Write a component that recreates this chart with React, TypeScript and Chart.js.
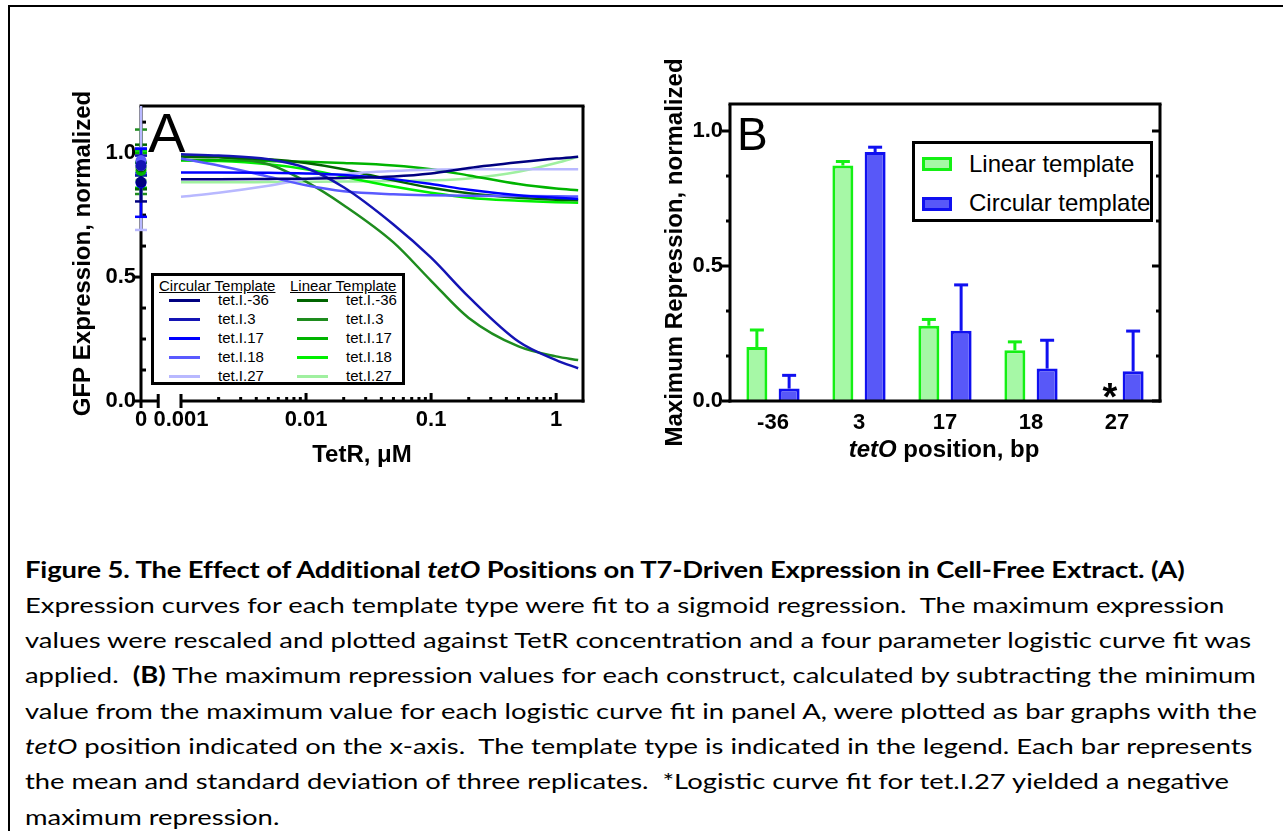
import React, { useEffect, useRef } from 'react';
import { Chart, registerables, LogarithmicScale } from 'chart.js';

Chart.register(...registerables);

const FONT = "'Liberation Sans', Arial, sans-serif";
Chart.defaults.font.family = FONT;
Chart.defaults.color = '#000';

// ---------------- Panel A data ----------------
const TETR_UM = [0.001, 0.002, 0.005, 0.01, 0.02, 0.05, 0.1, 0.2, 0.5, 1, 1.5];
const CONSTRUCTS = ['tet.I.-36', 'tet.I.3', 'tet.I.17', 'tet.I.18', 'tet.I.27'];

const CIRC_M36 = [0.895, 0.895, 0.896, 0.897, 0.9, 0.906, 0.918, 0.94, 0.963, 0.978, 0.985];
const CIRC_3 = [0.995, 0.99, 0.975, 0.94, 0.862, 0.712, 0.578, 0.42, 0.24, 0.165, 0.132];
const CIRC_17 = [0.922, 0.922, 0.921, 0.918, 0.912, 0.895, 0.875, 0.852, 0.83, 0.82, 0.815];
const CIRC_18 = [0.978, 0.95, 0.905, 0.87, 0.846, 0.834, 0.83, 0.828, 0.827, 0.826, 0.825];
const CIRC_27 = [0.824, 0.84, 0.868, 0.895, 0.915, 0.928, 0.933, 0.935, 0.935, 0.935, 0.935];

const LIN_M36 = [0.985, 0.983, 0.975, 0.96, 0.935, 0.89, 0.86, 0.838, 0.82, 0.812, 0.81];
const LIN_3 = [0.99, 0.985, 0.955, 0.885, 0.79, 0.64, 0.485, 0.335, 0.22, 0.18, 0.165];
const LIN_17 = [0.972, 0.971, 0.968, 0.965, 0.96, 0.95, 0.935, 0.91, 0.875, 0.857, 0.85];
const LIN_18 = [0.97, 0.968, 0.955, 0.935, 0.905, 0.865, 0.84, 0.82, 0.808, 0.802, 0.8];
const LIN_27 = [0.882, 0.882, 0.883, 0.884, 0.885, 0.887, 0.89, 0.898, 0.925, 0.96, 0.985];

const CIRC_CURVES = [CIRC_M36, CIRC_3, CIRC_17, CIRC_18, CIRC_27];
const LIN_CURVES = [LIN_M36, LIN_3, LIN_17, LIN_18, LIN_27];

// values without TetR (x = 0), mean and SD
const CIRC_ZERO_MEAN = [0.883, 0.95, 0.88, 0.97, 0.95];
const CIRC_ZERO_SD = [0.078, 0.04, 0.137, 0.05, 0.26];
const LIN_ZERO_MEAN = [0.944, 0.965, 0.93, 0.96, 0.94];
const LIN_ZERO_SD = [0.09, 0.13, 0.07, 0.05, 0.05];

const X_MIN = 0.001;
const X_MAX = 1.64;
const X_MAJOR = [0.001, 0.01, 0.1, 1];
const X_MAJOR_LABELS = ['0.001', '0.01', '0.1', '1'];
const X_ZERO_LABEL = '0';
const Y_A_MAX = 1.19;
const Y_A_MAJOR = [0, 0.5, 1.0];
const Y_A_MINOR = [0.125, 0.25, 0.375, 0.625, 0.75, 0.875, 1.125];

const CIRC_COLORS = ['#000080', '#1414b4', '#0000ff', '#5a5aff', '#b8b8ff'];
const LIN_COLORS = ['#006400', '#1e8c1e', '#00b400', '#00f000', '#a0f0a0'];

// ---------------- Panel B data ----------------
const POSITIONS = ['-36', '3', '17', '18', '27'];
const LINEAR_REP = [0.2, 0.872, 0.279, 0.188, null];
const LINEAR_SD = [0.063, 0.015, 0.023, 0.031, null];
const CIRC_REP = [0.046, 0.922, 0.26, 0.12, 0.11];
const CIRC_SD = [0.049, 0.018, 0.17, 0.105, 0.149];
const Y_B_MAX = 1.1;
const Y_B_MAJOR = [0, 0.5, 1.0];
const Y_B_MINOR = [0.1667, 0.3333, 0.6667, 0.8333];
const NOTE_MARK = '*';

const LIN_FILL = '#a6f8a6';
const LIN_EDGE = '#14f014';
const CIRC_FILL = '#5858f8';
const CIRC_EDGE = '#1010f0';

// ---------------- broken log scale (0 shown at the axis origin) ----------------
class BrokenLogScale extends (LogarithmicScale as any) {
  static id = 'brokenLog';
  static defaults = (LogarithmicScale as any).defaults;
  parse(raw: any, index: number) {
    if (raw === 0) return 0;
    return super.parse(raw, index);
  }
  getPixelForValue(value: number) {
    if (value === null || value === undefined || isNaN(value)) return NaN;
    const gap = (this as any).options.zeroGap || 0;
    if (value <= 0) return (this as any).left;
    const a = Math.log10((this as any).min);
    const b = Math.log10((this as any).max);
    return (this as any).left + gap + ((Math.log10(value) - a) / (b - a)) * ((this as any).width - gap);
  }
  getValueForPixel(pixel: number) {
    const gap = (this as any).options.zeroGap || 0;
    const a = Math.log10((this as any).min);
    const b = Math.log10((this as any).max);
    const dec = (pixel - (this as any).left - gap) / ((this as any).width - gap);
    return Math.pow(10, a + dec * (b - a));
  }
}
Chart.register(BrokenLogScale as any);

function xTickValues() {
  const v: number[] = [0];
  X_MAJOR.forEach((d) => {
    v.push(d);
    for (let k = 2; k <= 9; k++) {
      const m = +(d * k).toPrecision(3);
      if (m < X_MAX) v.push(m);
    }
  });
  return v;
}

function seg(ctx: CanvasRenderingContext2D, x1: number, y1: number, x2: number, y2: number) {
  ctx.beginPath();
  ctx.moveTo(x1, y1);
  ctx.lineTo(x2, y2);
  ctx.stroke();
}

const panelAPlugin = {
  id: 'panelADecor',
  beforeDatasetsDraw(chart: any) {
    const { ctx, chartArea: ca, scales } = chart;
    const x = scales.x;
    const y = scales.y;
    ctx.save();
    ctx.strokeStyle = '#000';
    ctx.lineWidth = 3;
    ctx.lineCap = 'butt';
    // frame
    seg(ctx, ca.left - 1.5, ca.top, ca.right + 1.5, ca.top);
    seg(ctx, ca.right, ca.top, ca.right, ca.bottom + 1.5);
    // y axis
    seg(ctx, ca.left, ca.top, ca.left, ca.bottom + 7);
    // broken x axis
    const x0 = x.getPixelForValue(0);
    const xs = x.getPixelForValue(X_MIN);
    const brk = x0 + (xs - x0) * 0.43;
    seg(ctx, x0, ca.bottom, brk, ca.bottom);
    seg(ctx, xs, ca.bottom, ca.right + 1.5, ca.bottom);
    seg(ctx, brk, ca.bottom - 7, brk, ca.bottom + 7);
    seg(ctx, xs, ca.bottom - 7, xs, ca.bottom + 7);
    x.ticks.forEach((t: any) => {
      if (t.value <= X_MIN) return;
      const px = x.getPixelForValue(t.value);
      const len = X_MAJOR.includes(t.value) ? 8 : 4;
      seg(ctx, px, ca.bottom, px, ca.bottom - len);
    });
    y.ticks.forEach((t: any) => {
      const py = y.getPixelForValue(t.value);
      if (Y_A_MAJOR.includes(t.value)) seg(ctx, ca.left - 7, py, ca.left, py);
      else seg(ctx, ca.left, py, ca.left + 5, py);
    });
    // error bars of the zero-TetR points
    const dss = chart.data.datasets;
    for (let i = dss.length - 1; i >= 0; i--) {
      const ds = dss[i];
      if (!ds.sd) continue;
      ctx.strokeStyle = ds.pointBackgroundColor;
      ctx.lineWidth = 2.5;
      ds.data.forEach((pt: any, j: number) => {
        const px = x.getPixelForValue(pt.x);
        const hiV = pt.y + ds.sd[j];
        const hi = Math.max(y.getPixelForValue(hiV), ca.top);
        const lo = y.getPixelForValue(pt.y - ds.sd[j]);
        seg(ctx, px, hi, px, lo);
        seg(ctx, px - 6, lo, px + 6, lo);
        if (hiV <= Y_A_MAX) seg(ctx, px - 6, hi, px + 6, hi);
      });
    }
    ctx.restore();
  },
};

function PanelA() {
  const ref = useRef<HTMLCanvasElement>(null);
  useEffect(() => {
    const datasets: any[] = [];
    CIRC_ZERO_MEAN.forEach((m, i) =>
      datasets.push({
        label: 'Circular ' + CONSTRUCTS[i] + ' no TetR',
        data: [{ x: 0, y: m }],
        sd: [CIRC_ZERO_SD[i]],
        showLine: false,
        pointRadius: 5.5,
        pointHoverRadius: 5.5,
        pointBorderWidth: 0,
        pointBackgroundColor: CIRC_COLORS[i],
        pointBorderColor: CIRC_COLORS[i],
        clip: false,
      })
    );
    LIN_ZERO_MEAN.forEach((m, i) =>
      datasets.push({
        label: 'Linear ' + CONSTRUCTS[i] + ' no TetR',
        data: [{ x: 0, y: m }],
        sd: [LIN_ZERO_SD[i]],
        showLine: false,
        pointRadius: 5.5,
        pointHoverRadius: 5.5,
        pointBorderWidth: 0,
        pointBackgroundColor: LIN_COLORS[i],
        pointBorderColor: LIN_COLORS[i],
        clip: false,
      })
    );
    CIRC_CURVES.forEach((c, i) =>
      datasets.push({
        label: 'Circular ' + CONSTRUCTS[i],
        data: TETR_UM.map((t, k) => ({ x: t, y: c[k] })),
        borderColor: CIRC_COLORS[i],
        borderWidth: 2.5,
        pointRadius: 0,
        cubicInterpolationMode: 'monotone',
        fill: false,
      })
    );
    LIN_CURVES.forEach((c, i) =>
      datasets.push({
        label: 'Linear ' + CONSTRUCTS[i],
        data: TETR_UM.map((t, k) => ({ x: t, y: c[k] })),
        borderColor: LIN_COLORS[i],
        borderWidth: 2.5,
        pointRadius: 0,
        cubicInterpolationMode: 'monotone',
        fill: false,
      })
    );
    const chart = new Chart(ref.current as HTMLCanvasElement, {
      type: 'line',
      data: { datasets },
      plugins: [panelAPlugin],
      options: {
        animation: false,
        responsive: true,
        maintainAspectRatio: false,
        events: [],
        layout: { padding: { top: 46, right: 10, left: 0, bottom: 0 } },
        plugins: { legend: { display: false }, tooltip: { enabled: false } },
        scales: {
          x: {
            type: 'brokenLog',
            min: X_MIN,
            max: X_MAX,
            zeroGap: 40,
            bounds: 'data',
            grid: { display: false, drawTicks: false },
            border: { display: false },
            afterBuildTicks: (scale: any) => {
              scale.ticks = xTickValues().map((v) => ({ value: v, major: false }));
            },
            ticks: {
              autoSkip: false,
              maxRotation: 0,
              padding: 6,
              font: { size: 22, weight: 'bold' },
              color: '#000',
              callback: (v: any) => {
                if (v === 0) return X_ZERO_LABEL;
                const k = X_MAJOR.indexOf(v);
                return k >= 0 ? X_MAJOR_LABELS[k] : '';
              },
            },
            title: {
              display: true,
              text: 'TetR, \u03bcM',
              font: { size: 24, weight: 'bold' },
              color: '#000',
              padding: { top: 0, bottom: 10.6 },
            },
            afterFit: (s: any) => {
              s.height = 79;
            },
          } as any,
          y: {
            type: 'linear',
            min: 0,
            max: Y_A_MAX,
            grid: { display: false, drawTicks: false },
            border: { display: false },
            afterBuildTicks: (scale: any) => {
              scale.ticks = [...Y_A_MAJOR, ...Y_A_MINOR].map((v) => ({ value: v }));
            },
            ticks: {
              autoSkip: false,
              padding: 5,
              font: { size: 22, weight: 'bold' },
              color: '#000',
              callback: (v: any) => (Y_A_MAJOR.includes(v) ? Number(v).toFixed(1) : ''),
            },
            title: {
              display: true,
              text: 'GFP Expression, normalized',
              font: { size: 24, weight: 'bold' },
              color: '#000',
              padding: { top: 28.6, bottom: 0 },
            },
            afterFit: (s: any) => {
              s.width = 101;
            },
          },
        },
      } as any,
    });
    return () => chart.destroy();
  }, []);
  return <canvas ref={ref} />;
}

const panelBPlugin = {
  id: 'panelBDecor',
  afterDatasetsDraw(chart: any) {
    const { ctx, chartArea: ca, scales } = chart;
    const x = scales.x;
    const y = scales.y;
    ctx.save();
    ctx.lineCap = 'butt';
    // error bars (upper)
    chart.data.datasets.forEach((ds: any, i: number) => {
      const meta = chart.getDatasetMeta(i);
      ctx.strokeStyle = ds.borderColor;
      ctx.lineWidth = 3;
      ds.data.forEach((v: any, j: number) => {
        if (v === null || ds.sd[j] === null) return;
        const el = meta.data[j];
        const top = y.getPixelForValue(v);
        const err = y.getPixelForValue(v + ds.sd[j]);
        seg(ctx, el.x, top, el.x, err);
        seg(ctx, el.x - 7, err, el.x + 7, err);
      });
    });
    // frame and axes
    ctx.strokeStyle = '#000';
    ctx.lineWidth = 3;
    seg(ctx, ca.left - 1.5, ca.top, ca.right + 1.5, ca.top);
    seg(ctx, ca.right, ca.top, ca.right, ca.bottom + 1.5);
    seg(ctx, ca.left, ca.top, ca.left, ca.bottom + 1.5);
    seg(ctx, ca.left - 1.5, ca.bottom, ca.right + 1.5, ca.bottom);
    y.ticks.forEach((t: any) => {
      const py = y.getPixelForValue(t.value);
      const len = Y_B_MAJOR.includes(t.value) ? 8 : 4;
      seg(ctx, ca.left - len, py, ca.left, py);
      seg(ctx, ca.right - len, py, ca.right, py);
    });
    // note mark where the linear value is missing
    const lin = chart.data.datasets[0];
    const meta0 = chart.getDatasetMeta(0);
    lin.data.forEach((v: any, j: number) => {
      if (v !== null) return;
      const el = meta0.data[j];
      const px = el && isFinite(el.x) ? el.x : x.getPixelForValue(j);
      ctx.fillStyle = '#000';
      ctx.font = 'bold 38px ' + FONT;
      ctx.textAlign = 'center';
      ctx.textBaseline = 'alphabetic';
      ctx.fillText(NOTE_MARK, px + 9, y.getPixelForValue(0) + 9);
    });
    ctx.restore();
  },
};

function PanelB() {
  const ref = useRef<HTMLCanvasElement>(null);
  useEffect(() => {
    const chart = new Chart(ref.current as HTMLCanvasElement, {
      type: 'bar',
      data: {
        labels: POSITIONS,
        datasets: [
          {
            label: 'Linear template',
            data: LINEAR_REP,
            sd: LINEAR_SD,
            backgroundColor: LIN_FILL,
            borderColor: LIN_EDGE,
            borderWidth: 3,
            categoryPercentage: 0.75,
            barPercentage: 0.65,
          } as any,
          {
            label: 'Circular template',
            data: CIRC_REP,
            sd: CIRC_SD,
            backgroundColor: CIRC_FILL,
            borderColor: CIRC_EDGE,
            borderWidth: 3,
            categoryPercentage: 0.75,
            barPercentage: 0.65,
          } as any,
        ],
      },
      plugins: [panelBPlugin],
      options: {
        animation: false,
        responsive: true,
        maintainAspectRatio: false,
        events: [],
        layout: { padding: { top: 64, right: 10, left: 0, bottom: 0 } },
        plugins: { legend: { display: false }, tooltip: { enabled: false } },
        scales: {
          x: {
            type: 'category',
            offset: true,
            grid: { display: false, drawTicks: false },
            border: { display: false },
            ticks: { padding: 9, maxRotation: 0, font: { size: 22, weight: 'bold' }, color: '#000' },
            afterFit: (s: any) => {
              s.height = 60;
            },
          },
          y: {
            type: 'linear',
            min: 0,
            max: Y_B_MAX,
            grid: { display: false, drawTicks: false },
            border: { display: false },
            afterBuildTicks: (scale: any) => {
              scale.ticks = [...Y_B_MAJOR, ...Y_B_MINOR].map((v) => ({ value: v }));
            },
            ticks: {
              autoSkip: false,
              padding: 7,
              font: { size: 22, weight: 'bold' },
              color: '#000',
              callback: (v: any) => (Y_B_MAJOR.includes(v) ? Number(v).toFixed(1) : ''),
            },
            title: {
              display: true,
              text: 'Maximum Repression, normalized',
              font: { size: 24, weight: 'bold' },
              color: '#000',
              padding: { top: 20.6, bottom: 0 },
            },
            afterFit: (s: any) => {
              s.width = 90;
            },
          },
        },
      } as any,
    });
    return () => chart.destroy();
  }, []);
  return <canvas ref={ref} />;
}

const ROW_CENTERS_A = [24, 43, 62, 81, 100];

function LegendA() {
  const txt: React.CSSProperties = { position: 'absolute', fontSize: 15, lineHeight: '18px', whiteSpace: 'nowrap', color: '#000' };
  return (
    <div
      style={{
        position: 'absolute',
        left: 151,
        top: 273,
        width: 254,
        height: 112,
        border: '3px solid #000',
        boxSizing: 'border-box',
        background: '#fff',
        fontFamily: FONT,
      }}
    >
      <div style={{ ...txt, left: 5, top: 1, textDecoration: 'underline' }}>Circular Template</div>
      <div style={{ ...txt, left: 136, top: 1, textDecoration: 'underline' }}>Linear Template</div>
      {CONSTRUCTS.map((name, i) => (
        <React.Fragment key={name}>
          <div style={{ position: 'absolute', left: 15, top: ROW_CENTERS_A[i] - 1.5, width: 31, height: 3, background: CIRC_COLORS[i] }} />
          <div style={{ ...txt, left: 64, top: ROW_CENTERS_A[i] - 9 }}>{name}</div>
          <div style={{ position: 'absolute', left: 143, top: ROW_CENTERS_A[i] - 1.5, width: 31, height: 3, background: LIN_COLORS[i] }} />
          <div style={{ ...txt, left: 192, top: ROW_CENTERS_A[i] - 9 }}>{name}</div>
        </React.Fragment>
      ))}
    </div>
  );
}

function LegendB() {
  const txt: React.CSSProperties = { position: 'absolute', left: 54, fontSize: 24, lineHeight: '28px', whiteSpace: 'nowrap', color: '#000' };
  const sw: React.CSSProperties = { position: 'absolute', left: 7, width: 30, height: 14, borderWidth: 3, borderStyle: 'solid', boxSizing: 'border-box' };
  return (
    <div
      style={{
        position: 'absolute',
        left: 912,
        top: 141,
        width: 241,
        height: 81,
        border: '3px solid #000',
        boxSizing: 'border-box',
        background: '#fff',
        fontFamily: FONT,
      }}
    >
      <div style={{ ...sw, top: 13, background: LIN_FILL, borderColor: LIN_EDGE }} />
      <div style={{ ...txt, top: 6 }}>Linear template</div>
      <div style={{ ...sw, top: 53, background: CIRC_FILL, borderColor: CIRC_EDGE }} />
      <div style={{ ...txt, top: 45 }}>Circular template</div>
    </div>
  );
}

const CAPTION: [string, string][][] = [
  [
    ['b', 'Figure 5. The Effect of Additional '],
    ['bi', 'tetO'],
    ['b', ' Positions on T7-Driven Expression in Cell-Free Extract. (A)'],
  ],
  [['', 'Expression curves for each template type were fit to a sigmoid regression.  The maximum expression']],
  [['', 'values were rescaled and plotted against TetR concentration and a four parameter logistic curve fit was']],
  [
    ['', 'applied.  '],
    ['b', '(B)'],
    ['', ' The maximum repression values for each construct, calculated by subtracting the minimum'],
  ],
  [['', 'value from the maximum value for each logistic curve fit in panel A, were plotted as bar graphs with the']],
  [
    ['i', 'tetO'],
    ['', ' position indicated on the x-axis.  The template type is indicated in the legend. Each bar represents'],
  ],
  [['', 'the mean and standard deviation of three replicates.  *Logistic curve fit for tet.I.27 yielded a negative']],
  [['', 'maximum repression.']],
];

function Caption() {
  return (
    <div
      style={{
        position: 'absolute',
        left: 25,
        top: 551.5,
        fontFamily: "Lato, 'Noto Sans', sans-serif",
        fontSize: 22,
        color: '#000',
        transform: 'scaleX(1.245)',
        transformOrigin: '0 0',
      }}
    >
      {CAPTION.map((line, i) => (
        <div key={i} style={{ height: 35.3, lineHeight: '35.3px', whiteSpace: 'pre' }}>
          {line.map(([st, t], k) => (
            <span
              key={k}
              style={{
                fontWeight: st.includes('b') ? 700 : 400,
                fontStyle: st.includes('i') ? 'italic' : 'normal',
                letterSpacing: st.includes('b') && i === 0 ? '-0.1px' : undefined,
              }}
            >
              {t}
            </span>
          ))}
        </div>
      ))}
    </div>
  );
}

export default function App() {
  return (
    <div
      style={{
        position: 'absolute',
        left: 0,
        top: 0,
        width: 1283,
        height: 831,
        overflow: 'hidden',
        background: '#fff',
        fontFamily: FONT,
      }}
    >
      <div style={{ position: 'absolute', left: 8, top: 5, width: 1400, height: 1000, border: '2px solid #000' }} />
      <div style={{ position: 'absolute', left: 40, top: 60, width: 553, height: 420 }}>
        <PanelA />
      </div>
      <div style={{ position: 'absolute', left: 640, top: 40, width: 530, height: 421 }}>
        <PanelB />
      </div>
      <div style={{ position: 'absolute', left: 148, top: 104.7, fontSize: 56, lineHeight: '56px', fontFamily: FONT }}>A</div>
      <div style={{ position: 'absolute', left: 737, top: 110.7, fontSize: 46, lineHeight: '46px', fontFamily: FONT }}>B</div>
      <LegendA />
      <LegendB />
      <div
        style={{
          position: 'absolute',
          left: 744,
          top: 435,
          width: 400,
          textAlign: 'center',
          fontSize: 24,
          lineHeight: '28px',
          fontWeight: 700,
          fontFamily: FONT,
          whiteSpace: 'nowrap',
        }}
      >
        <i>tetO</i> position, bp
      </div>
      <Caption />
    </div>
  );
}
